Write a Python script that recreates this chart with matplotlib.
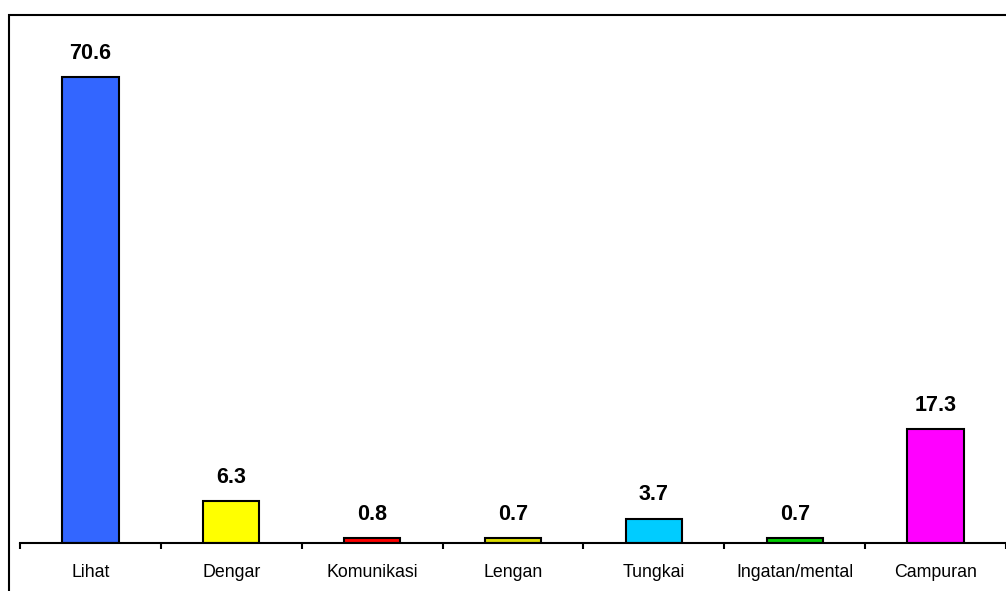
import matplotlib

matplotlib.use("Agg")
import matplotlib.pyplot as plt
from matplotlib.patches import Rectangle

categories = ["Lihat", "Dengar", "Komunikasi", "Lengan", "Tungkai", "Ingatan/mental", "Campuran"]
values = [70.6, 6.3, 0.8, 0.7, 3.7, 0.7, 17.3]
colors = ["#3366FF", "#FFFF00", "#FF0000", "#DDDD00", "#00CCFF", "#00CC00", "#FF00FF"]

plt.rcParams["font.family"] = ["Liberation Sans", "DejaVu Sans"]

W, H = 1006, 591
fig = plt.figure(figsize=(W / 100, H / 100), dpi=100)
ax = fig.add_axes([20 / W, (H - 543) / H, 986 / W, 528 / H])

xs = range(len(categories))
bars = ax.bar(xs, values, width=0.4, color=colors, edgecolor="black", linewidth=1.5, zorder=3)
for b, v in zip(bars, values):
    ax.annotate(f"{v:.1f}", (b.get_x() + b.get_width() / 2, v), xytext=(0, 9.5),
                textcoords="offset points", ha="center", va="bottom",
                fontsize=15.5, fontweight="bold")

ax.set_xlim(-0.5, len(categories) - 0.5)
ax.set_ylim(0, 80)
for s in ("top", "right", "left"):
    ax.spines[s].set_visible(False)
ax.spines["bottom"].set_linewidth(1.5)
ax.spines["bottom"].set_zorder(4)
ax.set_yticks([])
ax.set_xticks(list(xs))
ax.set_xticklabels(categories, fontsize=12.8)
ax.set_xticks([i - 0.5 for i in range(len(categories) + 1)], minor=True)
ax.tick_params(axis="x", which="major", length=0, pad=15)
ax.tick_params(axis="x", which="minor", length=4, width=1.5, direction="out")

# outer chart frame
fig.patches.append(Rectangle((9 / W, -0.05), 1.1, (H - 15) / H + 0.05,
                             transform=fig.transFigure, fill=False,
                             edgecolor="black", linewidth=1.5, zorder=0))

fig.savefig("out.png", dpi=100)
